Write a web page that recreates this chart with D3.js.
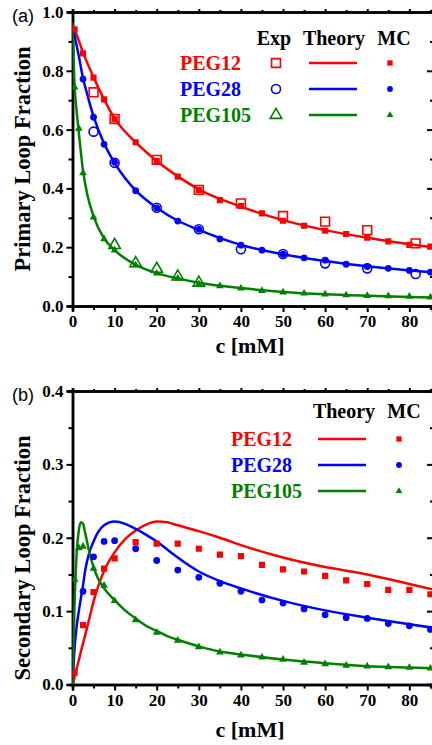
<!DOCTYPE html>
<html>
<head>
<meta charset="utf-8">
<script src="https://cdn.jsdelivr.net/npm/d3@7"></script>
<style>
  body { margin: 0; background: #fff; }
  svg { display: block; }
  .tick text { font-family: "Liberation Serif", "Times New Roman", serif; font-weight: bold; font-size: 17px; }
</style>
</head>
<body>
<div id="chart"></div>
<script>
// ---- data ----
const colors = { PEG12: '#ff0000', PEG28: '#0000ff', PEG105: '#008000' }
const series = ['PEG12', 'PEG28', 'PEG105']

// (a) primary loop fraction
const primaryTheoryC = [0, 0.5, 1, 1.5, 2.5, 3.5, 5, 7.5, 10, 15, 20, 25, 30, 40, 50, 60, 70, 80, 86]
const primaryTheory12 = [0.958, 0.94, 0.922, 0.903, 0.862, 0.827, 0.778, 0.703, 0.638, 0.557, 0.493, 0.441, 0.397, 0.338, 0.292, 0.258, 0.232, 0.21, 0.199]
const primaryTheory28 = [0.956, 0.92, 0.885, 0.85, 0.775, 0.72, 0.645, 0.553, 0.487, 0.393, 0.334, 0.29, 0.259, 0.208, 0.176, 0.153, 0.135, 0.121, 0.114]
const primaryTheory105 = [0.965, 0.75, 0.66, 0.59, 0.46, 0.38, 0.305, 0.23, 0.19, 0.14, 0.112, 0.094, 0.079, 0.061, 0.048, 0.04, 0.035, 0.031, 0.029]

const mcC12 = [0.5, 2.5, 5, 7.5, 10, 15, 20, 25, 30, 35, 40, 45, 50, 55, 60, 65, 70, 75, 80, 85]
const mcC28 = [2.5, 5, 7.5, 10, 15, 20, 25, 30, 35, 40, 45, 50, 55, 60, 65, 70, 75, 80, 85]
const mcC105 = [0.5, 1.5, 2.5, 5, 7.5, 10, 15, 20, 25, 30, 35, 40, 45, 50, 55, 60, 65, 70, 75, 80, 85]
const primaryMC12 = [0.941, 0.859, 0.777, 0.703, 0.635, 0.557, 0.493, 0.44, 0.395, 0.36, 0.34, 0.315, 0.29, 0.273, 0.256, 0.245, 0.232, 0.22, 0.208, 0.202]
const primaryMC28 = [0.772, 0.642, 0.55, 0.489, 0.392, 0.334, 0.289, 0.261, 0.228, 0.207, 0.19, 0.176, 0.164, 0.156, 0.142, 0.134, 0.128, 0.121, 0.115]
const primaryMC105 = [0.744, 0.604, 0.452, 0.302, 0.228, 0.19, 0.139, 0.111, 0.094, 0.075, 0.068, 0.06, 0.052, 0.047, 0.043, 0.04, 0.037, 0.035, 0.034, 0.032, 0.03]

const expC12 = [5, 10, 20, 30, 40, 50, 60, 70, 81.5]
const expC28 = [5, 10, 20, 30, 40, 50, 60, 70, 81.5]
const expC105 = [10, 15, 20, 25, 30]
const exp12 = [0.727, 0.636, 0.497, 0.395, 0.349, 0.306, 0.287, 0.258, 0.213]
const exp28 = [0.593, 0.487, 0.334, 0.261, 0.193, 0.177, 0.145, 0.128, 0.109]
const exp105 = [0.207, 0.145, 0.126, 0.1, 0.079]

// (b) secondary loop fraction
const secTheoryC = [0, 0.5, 1, 1.5, 2, 2.5, 3, 4, 5, 6, 7.5, 10, 12.5, 15, 17.5, 20, 22.5, 25, 30, 35, 40, 50, 60, 70, 80, 86]
const secTheory12 = [0, 0.01, 0.022, 0.033, 0.045, 0.056, 0.067, 0.09, 0.113, 0.132, 0.155, 0.18, 0.198, 0.21, 0.218, 0.222, 0.221, 0.217, 0.209, 0.2, 0.19, 0.173, 0.16, 0.15, 0.137, 0.129]
const secTheory28 = [0, 0.05, 0.08, 0.1, 0.118, 0.135, 0.155, 0.18, 0.195, 0.207, 0.217, 0.222, 0.219, 0.212, 0.204, 0.195, 0.184, 0.173, 0.154, 0.141, 0.131, 0.114, 0.101, 0.091, 0.082, 0.077]
const secTheory105 = [0, 0.11, 0.18, 0.21, 0.221, 0.219, 0.207, 0.18, 0.16, 0.145, 0.131, 0.115, 0.101, 0.09, 0.08, 0.073, 0.066, 0.061, 0.052, 0.045, 0.041, 0.034, 0.029, 0.025, 0.023, 0.022]

const secMC12 = [0.016, 0.081, 0.126, 0.158, 0.172, 0.194, 0.192, 0.192, 0.185, 0.177, 0.175, 0.163, 0.157, 0.154, 0.148, 0.142, 0.137, 0.129, 0.129, 0.123]
const secMC28 = [0.127, 0.174, 0.195, 0.196, 0.185, 0.169, 0.156, 0.146, 0.138, 0.127, 0.115, 0.111, 0.103, 0.095, 0.091, 0.09, 0.083, 0.08, 0.075]
const secMC105 = [0.143, 0.186, 0.188, 0.158, 0.135, 0.114, 0.088, 0.071, 0.06, 0.051, 0.044, 0.04, 0.037, 0.034, 0.03, 0.028, 0.026, 0.025, 0.024, 0.023, 0.022]

const xTicks = [0, 10, 20, 30, 40, 50, 60, 70, 80]
const xMinor = [5, 15, 25, 35, 45, 55, 65, 75, 85]

const zip = (cs, vs) => cs.map((c, i) => ({ c: c, v: vs[i] }))

const W = 432, H = 745
const serif = '"Liberation Serif", "Times New Roman", serif'
const svg = d3.select('#chart').append('svg').attr('width', W).attr('height', H)

const x = d3.scaleLinear().domain([0, 85.5]).range([72.5, 432.5])

// marker shapes
const mcSym = { PEG12: d3.symbolSquare, PEG28: d3.symbolCircle, PEG105: d3.symbolTriangle }
const mcSize = { PEG12: 38, PEG28: 36, PEG105: 26 }
const expSym = { PEG12: d3.symbolSquare, PEG28: d3.symbolCircle, PEG105: d3.symbolTriangle }
const expSize = { PEG12: 78, PEG28: 64, PEG105: 58 }

function panel(cfg) {
  const y = d3.scaleLinear().domain(cfg.yDomain).range([cfg.bottom, cfg.top])
  const g = svg.append('g')
  const clipId = 'clip' + cfg.id
  svg.append('clipPath').attr('id', clipId)
    .append('rect').attr('x', x.range()[0]).attr('y', cfg.top)
    .attr('width', x.range()[1] - x.range()[0]).attr('height', cfg.bottom - cfg.top)

  // minor ticks first
  g.append('g').attr('transform', 'translate(0,' + cfg.bottom + ')')
    .call(d3.axisBottom(x).tickValues(xMinor).tickSize(4).tickFormat(''))
  g.append('g').attr('transform', 'translate(72.5,0)')
    .call(d3.axisLeft(y).tickValues(cfg.yMinor).tickSize(4).tickFormat(''))
  g.append('g').attr('transform', 'translate(433,0)')
    .call(d3.axisLeft(y).tickValues(cfg.yMinor).tickSize(3).tickFormat(''))
  g.append('g').attr('transform', 'translate(0,' + cfg.top + ')')
    .call(d3.axisTop(x).tickValues(xMinor).tickSize(2).tickFormat(''))
  // major
  g.append('g').attr('transform', 'translate(0,' + cfg.top + ')')
    .call(d3.axisTop(x).tickValues(xTicks).tickSize(3).tickFormat(''))
  g.append('g').attr('transform', 'translate(433,0)')
    .call(d3.axisLeft(y).tickValues(cfg.yTicks).tickSize(6).tickFormat(''))
  g.append('g').attr('transform', 'translate(0,' + cfg.bottom + ')')
    .call(d3.axisBottom(x).tickValues(xTicks).tickSize(6).tickPadding(3).tickFormat(d3.format('d')))
  g.append('g').attr('transform', 'translate(72.5,0)')
    .call(d3.axisLeft(y).tickValues(cfg.yTicks).tickSize(6).tickPadding(3).tickFormat(d3.format('.1f')))

  g.selectAll('.domain').attr('stroke', '#000').attr('stroke-width', 2.5)
  g.selectAll('.tick line').attr('stroke', '#000').attr('stroke-width', 2)
  g.selectAll('.tick text').attr('fill', '#000')

  const plot = svg.append('g').attr('clip-path', 'url(#' + clipId + ')')
  const line = d3.line().x(d => x(d.c)).y(d => y(d.v)).curve(d3.curveMonotoneX)

  series.forEach(s => {
    plot.append('path').datum(cfg.theory[s])
      .attr('d', line).attr('fill', 'none')
      .attr('stroke', colors[s]).attr('stroke-width', 2.5)
  })
  if (cfg.exp) {
    series.forEach(s => {
      plot.selectAll(null).data(cfg.exp[s]).enter().append('path')
        .attr('transform', d => 'translate(' + x(d.c) + ',' + y(d.v) + ')')
        .attr('d', d3.symbol(expSym[s], expSize[s]))
        .attr('fill', 'none').attr('stroke', colors[s]).attr('stroke-width', 1.6)
    })
  }
  series.forEach(s => {
    plot.selectAll(null).data(cfg.mc[s]).enter().append('path')
      .attr('transform', d => 'translate(' + x(d.c) + ',' + y(d.v) + ')')
      .attr('d', d3.symbol(mcSym[s], mcSize[s]))
      .attr('fill', colors[s])
  })

  // titles
  svg.append('text').attr('x', 250).attr('y', cfg.xTitleY)
    .attr('text-anchor', 'middle').attr('font-family', serif).attr('font-weight', 'bold')
    .attr('font-size', 22).text('c [mM]')
  svg.append('text')
    .attr('transform', 'translate(30,' + cfg.yTitleMid + ') rotate(-90)')
    .attr('text-anchor', 'middle').attr('font-family', serif).attr('font-weight', 'bold')
    .attr('font-size', 22.5).text(cfg.yTitle)
  svg.append('text').attr('x', 12).attr('y', cfg.top + 10)
    .attr('font-family', '"Liberation Sans", Arial, sans-serif').attr('font-size', 18)
    .text(cfg.label)

  // legend
  const L = cfg.legend
  L.heads.forEach(h => {
    svg.append('text').attr('x', h.x).attr('y', L.headY).attr('text-anchor', 'middle')
      .attr('font-family', serif).attr('font-weight', 'bold').attr('font-size', 20).text(h.t)
  })
  series.forEach((s, i) => {
    const ry = L.rowY[i]
    svg.append('text').attr('x', L.nameX).attr('y', ry + 7)
      .attr('font-family', serif).attr('font-weight', 'bold').attr('font-size', 20)
      .attr('fill', colors[s]).text(s)
    if (L.expX) {
      svg.append('path').attr('transform', 'translate(' + L.expX + ',' + ry + ')')
        .attr('d', d3.symbol(expSym[s], expSize[s]))
        .attr('fill', 'none').attr('stroke', colors[s]).attr('stroke-width', 1.6)
    }
    svg.append('line').attr('x1', L.lineX[0]).attr('x2', L.lineX[1])
      .attr('y1', ry).attr('y2', ry).attr('stroke', colors[s]).attr('stroke-width', 2.5)
    svg.append('path').attr('transform', 'translate(' + L.mcX + ',' + ry + ')')
      .attr('d', d3.symbol(mcSym[s], mcSize[s] * 0.75)).attr('fill', colors[s])
  })
}

panel({
  id: 'a', label: '(a)', top: 12, bottom: 306, yDomain: [0, 1],
  yTicks: [0, 0.2, 0.4, 0.6, 0.8, 1.0], yMinor: [0.1, 0.3, 0.5, 0.7, 0.9],
  xTitleY: 353, yTitle: 'Primary Loop Fraction', yTitleMid: 159,
  theory: {
    PEG12: zip(primaryTheoryC, primaryTheory12),
    PEG28: zip(primaryTheoryC, primaryTheory28),
    PEG105: zip(primaryTheoryC, primaryTheory105)
  },
  exp: { PEG12: zip(expC12, exp12), PEG28: zip(expC28, exp28), PEG105: zip(expC105, exp105) },
  mc: { PEG12: zip(mcC12, primaryMC12), PEG28: zip(mcC28, primaryMC28), PEG105: zip(mcC105, primaryMC105) },
  legend: {
    headY: 45, heads: [{ t: 'Exp', x: 274 }, { t: 'Theory', x: 334 }, { t: 'MC', x: 394 }],
    rowY: [63, 89, 115], nameX: 180, expX: 276, lineX: [309, 357], mcX: 390
  }
})

panel({
  id: 'b', label: '(b)', top: 391, bottom: 684.5, yDomain: [0, 0.4],
  yTicks: [0, 0.1, 0.2, 0.3, 0.4], yMinor: [0.05, 0.15, 0.25, 0.35],
  xTitleY: 737, yTitle: 'Secondary Loop Fraction', yTitleMid: 558,
  theory: {
    PEG12: zip(secTheoryC, secTheory12),
    PEG28: zip(secTheoryC, secTheory28),
    PEG105: zip(secTheoryC, secTheory105)
  },
  mc: { PEG12: zip(mcC12, secMC12), PEG28: zip(mcC28, secMC28), PEG105: zip(mcC105, secMC105) },
  legend: {
    headY: 418, heads: [{ t: 'Theory', x: 344 }, { t: 'MC', x: 404 }],
    rowY: [439, 465, 491], nameX: 231, lineX: [318, 366], mcX: 399
  }
})
</script>
</body>
</html>
